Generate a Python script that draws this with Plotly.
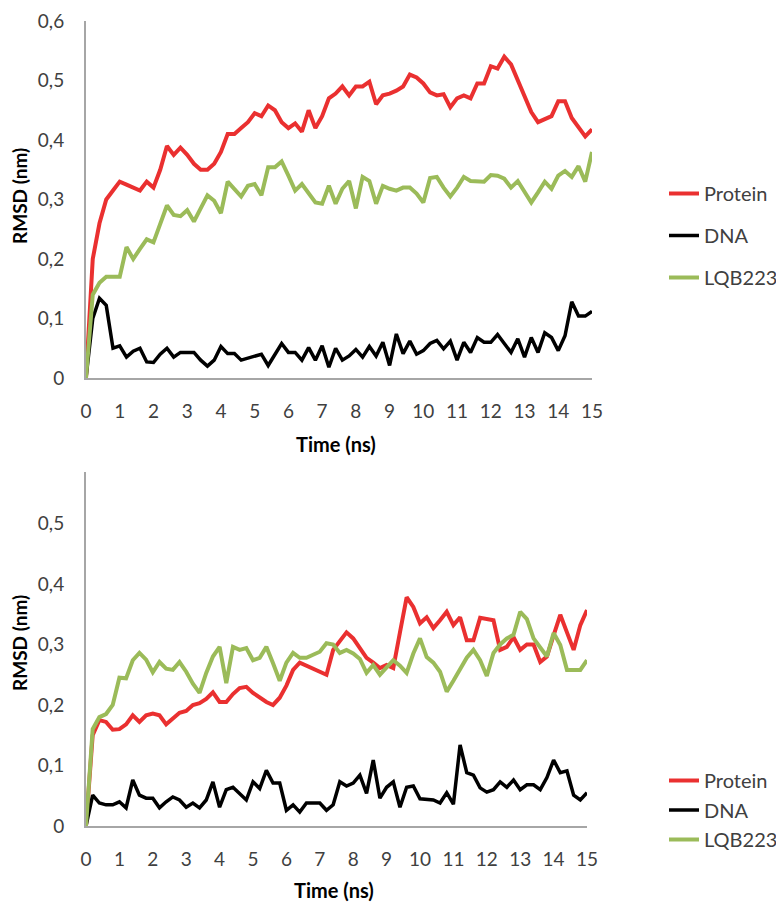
import plotly.graph_objects as go

time_ns = [0.0, 0.2, 0.4, 0.6, 0.8, 1.0, 1.2, 1.4, 1.6, 1.8, 2.0, 2.2, 2.4, 2.6, 2.8, 3.0,
           3.2, 3.4, 3.6, 3.8, 4.0, 4.2, 4.4, 4.6, 4.8, 5.0, 5.2, 5.4, 5.6, 5.8, 6.0,
           6.2, 6.4, 6.6, 6.8, 7.0, 7.2, 7.4, 7.6, 7.8, 8.0, 8.2, 8.4, 8.6, 8.8, 9.0,
           9.2, 9.4, 9.6, 9.8, 10.0, 10.2, 10.4, 10.6, 10.8, 11.0, 11.2, 11.4, 11.6, 11.8, 12.0,
           12.2, 12.4, 12.6, 12.8, 13.0, 13.2, 13.4, 13.6, 13.8, 14.0, 14.2, 14.4, 14.6, 14.8, 15.0]

# ---- top panel ----
top_protein = [0.0, 0.20, 0.26, 0.30, 0.315, 0.33, 0.325, 0.32, 0.315, 0.33, 0.32,
               0.35, 0.39, 0.375, 0.387, 0.375, 0.36, 0.35, 0.35, 0.36, 0.38,
               0.41, 0.41, 0.42, 0.43, 0.445, 0.44, 0.458, 0.45, 0.43, 0.42,
               0.428, 0.414, 0.45, 0.42, 0.44, 0.47, 0.478, 0.49, 0.475, 0.49,
               0.49, 0.498, 0.46, 0.475, 0.478, 0.483, 0.49, 0.51, 0.505, 0.495,
               0.48, 0.475, 0.477, 0.455, 0.47, 0.475, 0.47, 0.495, 0.495, 0.524,
               0.52, 0.54, 0.527, 0.50, 0.47, 0.447, 0.43, 0.435, 0.44, 0.465,
               0.465, 0.437, 0.42, 0.406, 0.418]
top_dna = [0.0, 0.10, 0.134, 0.122, 0.05, 0.054, 0.035, 0.045, 0.05, 0.027, 0.026,
           0.04, 0.05, 0.035, 0.043, 0.043, 0.043, 0.03, 0.02, 0.03, 0.053,
           0.041, 0.041, 0.03, 0.033, 0.036, 0.04, 0.021, 0.04, 0.058, 0.043,
           0.043, 0.03, 0.051, 0.03, 0.054, 0.018, 0.05, 0.03, 0.037, 0.048,
           0.035, 0.053, 0.037, 0.06, 0.021, 0.074, 0.041, 0.062, 0.04, 0.046,
           0.058, 0.063, 0.049, 0.062, 0.03, 0.06, 0.043, 0.068, 0.06, 0.06,
           0.073, 0.058, 0.043, 0.066, 0.035, 0.068, 0.043, 0.076, 0.068, 0.046,
           0.071, 0.128, 0.104, 0.104, 0.112]
top_lqb = [0.0, 0.14, 0.16, 0.17, 0.17, 0.17, 0.22, 0.20, 0.217, 0.233, 0.228,
           0.26, 0.29, 0.274, 0.272, 0.282, 0.263, 0.285, 0.307, 0.298, 0.277,
           0.33, 0.318, 0.305, 0.323, 0.326, 0.307, 0.354, 0.354, 0.364, 0.34,
           0.315, 0.326, 0.31, 0.295, 0.293, 0.323, 0.293, 0.318, 0.331, 0.285,
           0.338, 0.331, 0.293, 0.323, 0.318, 0.315, 0.32, 0.32, 0.31, 0.295,
           0.336, 0.338, 0.32, 0.305, 0.32, 0.338, 0.331, 0.331, 0.33, 0.341,
           0.34, 0.335, 0.32, 0.331, 0.313, 0.295, 0.312, 0.33, 0.318, 0.34,
           0.348, 0.338, 0.356, 0.33, 0.38]

# ---- bottom panel ----
bot_protein = [0.0, 0.15, 0.175, 0.172, 0.159, 0.16, 0.168, 0.183, 0.172, 0.183, 0.186,
               0.183, 0.168, 0.178, 0.187, 0.19, 0.2, 0.203, 0.21, 0.221, 0.205,
               0.205, 0.218, 0.228, 0.23, 0.22, 0.212, 0.205, 0.2, 0.212, 0.232,
               0.258, 0.27, 0.265, 0.26, 0.255, 0.25, 0.291, 0.305, 0.32, 0.31,
               0.295, 0.278, 0.27, 0.261, 0.266, 0.261, 0.32, 0.378, 0.362, 0.335,
               0.345, 0.327, 0.34, 0.354, 0.332, 0.345, 0.307, 0.307, 0.344, 0.342,
               0.34, 0.291, 0.296, 0.312, 0.291, 0.3, 0.3, 0.271, 0.28, 0.315,
               0.349, 0.32, 0.291, 0.332, 0.357]
bot_dna = [0.0, 0.051, 0.038, 0.035, 0.035, 0.04, 0.03, 0.076, 0.051, 0.046, 0.046,
           0.03, 0.04, 0.048, 0.043, 0.031, 0.038, 0.03, 0.043, 0.073, 0.031,
           0.06, 0.064, 0.054, 0.043, 0.073, 0.062, 0.092, 0.071, 0.071, 0.026,
           0.035, 0.023, 0.038, 0.038, 0.038, 0.026, 0.035, 0.073, 0.066, 0.071,
           0.084, 0.054, 0.109, 0.046, 0.064, 0.073, 0.031, 0.064, 0.066, 0.045,
           0.044, 0.043, 0.038, 0.055, 0.036, 0.134, 0.088, 0.084, 0.063, 0.056,
           0.06, 0.073, 0.064, 0.076, 0.06, 0.068, 0.068, 0.06, 0.08, 0.109,
           0.088, 0.091, 0.051, 0.043, 0.055]
bot_lqb = [0.0, 0.16, 0.18, 0.185, 0.2, 0.245, 0.244, 0.274, 0.286, 0.275, 0.254,
           0.271, 0.26, 0.258, 0.271, 0.255, 0.235, 0.22, 0.253, 0.28, 0.296,
           0.236, 0.296, 0.291, 0.294, 0.274, 0.278, 0.296, 0.269, 0.24, 0.27,
           0.286, 0.278, 0.278, 0.283, 0.288, 0.302, 0.3, 0.286, 0.291, 0.285,
           0.276, 0.253, 0.266, 0.25, 0.262, 0.274, 0.265, 0.253, 0.285, 0.31,
           0.279, 0.27, 0.255, 0.222, 0.24, 0.258, 0.278, 0.291, 0.274, 0.248,
           0.286, 0.3, 0.31, 0.316, 0.354, 0.342, 0.31, 0.295, 0.28, 0.319,
           0.299, 0.258, 0.258, 0.258, 0.274]

series_names = ["Protein", "DNA", "LQB223"]
x_ticks = list(range(0, 16))
y_ticks_top = [0, 0.1, 0.2, 0.3, 0.4, 0.5, 0.6]
y_ticks_bot = [0, 0.1, 0.2, 0.3, 0.4, 0.5]

RED = "#EA3030"
BLACK = "#000000"
GREEN = "#9BBB59"
colors = [RED, BLACK, GREEN]
widths = [4, 3.5, 4]

FONT = "Lato"
TICK_COLOR = "#404040"
AXIS_COLOR = "#A6A6A6"

fig = go.Figure()

for name, ys, c, w in zip(series_names, [top_protein, top_dna, top_lqb], colors, widths):
    fig.add_trace(go.Scatter(x=time_ns, y=ys, mode="lines", name=name,
                             line=dict(color=c, width=w), xaxis="x", yaxis="y",
                             legend="legend", legendgroup="t" + name))
for name, ys, c, w in zip(series_names, [bot_protein, bot_dna, bot_lqb], colors, widths):
    fig.add_trace(go.Scatter(x=time_ns, y=ys, mode="lines", name=name,
                             line=dict(color=c, width=w), xaxis="x2", yaxis="y2",
                             legend="legend2", legendgroup="b" + name))

# page body has an 8px margin, so the figure is 8px smaller and coordinates are offset
OFF = 8
W, H = 784 - OFF, 908 - OFF

def px_x(p):
    return (p - OFF) / W

def px_y(p):
    return 1 - (p - OFF) / H

def fmt(v):
    return ("%g" % v).replace(".", ",")

TICK_SIZE = 19
xaxis_common = dict(range=[0, 15], tickvals=x_ticks, ticktext=[str(v) for v in x_ticks],
                    showgrid=False, zeroline=False, showline=True, linecolor=AXIS_COLOR,
                    linewidth=2, ticks="outside", ticklen=15, tickcolor="rgba(0,0,0,0)",
                    ticklabeloverflow="allow",
                    tickfont=dict(family=FONT, size=TICK_SIZE, color=TICK_COLOR))
yaxis_common = dict(showgrid=False, zeroline=False, showline=True, linecolor=AXIS_COLOR,
                    linewidth=2, ticks="outside", ticklen=16, tickcolor="rgba(0,0,0,0)",
                    ticklabeloverflow="allow",
                    tickfont=dict(family=FONT, size=TICK_SIZE, color=TICK_COLOR))

LEG_SIZE = 20
fig.update_layout(
    width=W, height=H,
    margin=dict(l=0, r=0, t=0, b=0, autoexpand=False),
    paper_bgcolor="white", plot_bgcolor="white",
    xaxis=dict(domain=[px_x(86), px_x(592)], anchor="y", **xaxis_common),
    yaxis=dict(domain=[px_y(378), px_y(21)], anchor="x", range=[0, 0.6],
               tickvals=y_ticks_top, ticktext=[fmt(v) for v in y_ticks_top], **yaxis_common),
    xaxis2=dict(domain=[px_x(86), px_x(587)], anchor="y2", **xaxis_common),
    yaxis2=dict(domain=[px_y(826), px_y(472)], anchor="x2", range=[0, 0.585],
                tickvals=y_ticks_bot, ticktext=[fmt(v) for v in y_ticks_bot], **yaxis_common),
    legend=dict(x=px_x(664), y=px_y(174), xanchor="left", yanchor="top",
                font=dict(family=FONT, size=LEG_SIZE, color=TICK_COLOR),
                traceorder="grouped", tracegroupgap=13, bgcolor="rgba(0,0,0,0)"),
    legend2=dict(x=px_x(664), y=px_y(761), xanchor="left", yanchor="top",
                 font=dict(family=FONT, size=LEG_SIZE, color=TICK_COLOR),
                 traceorder="grouped", tracegroupgap=0.5, bgcolor="rgba(0,0,0,0)"),
    showlegend=True,
)

title_font = dict(family=FONT, size=19, color="#000000")
annotations = [
    dict(text="<b>Time (ns)</b>", x=px_x(336), y=px_y(444), xref="paper", yref="paper",
         showarrow=False, font=dict(family=FONT, size=20, color="#000000"),
         xanchor="center", yanchor="middle"),
    dict(text="<b>Time (ns)</b>", x=px_x(334), y=px_y(890), xref="paper", yref="paper",
         showarrow=False, font=dict(family=FONT, size=20, color="#000000"),
         xanchor="center", yanchor="middle"),
    dict(text="<b>RMSD (nm)</b>", x=px_x(19), y=px_y(196), xref="paper", yref="paper",
         showarrow=False, font=title_font, textangle=-90, xanchor="center", yanchor="middle"),
    dict(text="<b>RMSD (nm)</b>", x=px_x(19), y=px_y(643), xref="paper", yref="paper",
         showarrow=False, font=title_font, textangle=-90, xanchor="center", yanchor="middle"),
]
fig.update_layout(annotations=annotations)

fig.write_html("out.html")
